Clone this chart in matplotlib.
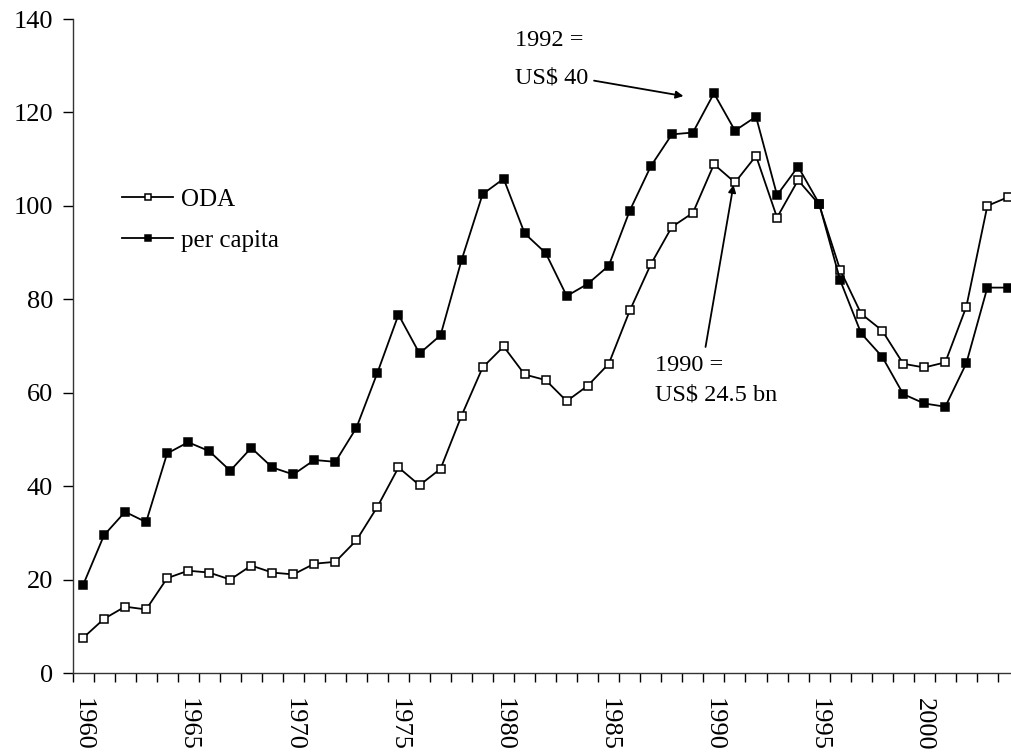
import matplotlib
matplotlib.use("Agg")
import matplotlib.pyplot as plt
import numpy as np

# --- DATA ---
years = list(range(1960, 2005))
oda = [7.5, 11.6, 14.2, 13.6, 20.3, 21.9, 21.5, 20.0, 23.0, 21.5,
       21.1, 23.4, 23.8, 28.4, 35.6, 44.0, 40.2, 43.7, 55.1, 65.4,
       69.9, 63.9, 62.7, 58.2, 61.5, 66.2, 77.6, 87.5, 95.5, 98.5,
       108.9, 105.0, 110.7, 97.5, 105.5, 100.3, 86.3, 76.9, 73.3, 66.2,
       65.4, 66.5, 78.4, 100.0, 101.9]
per_capita = [18.8, 29.5, 34.5, 32.3, 47.0, 49.4, 47.5, 43.3, 48.2, 44.0,
              42.5, 45.6, 45.2, 52.5, 64.3, 76.7, 68.4, 72.3, 88.4, 102.5,
              105.8, 94.1, 89.9, 80.7, 83.3, 87.2, 99.0, 108.5, 115.3, 115.7,
              124.1, 116.1, 119.1, 102.3, 108.4, 100.5, 84.1, 72.7, 67.7, 59.7,
              57.7, 57.0, 66.3, 82.5, 82.5]
label_years = [1960, 1965, 1970, 1975, 1980, 1985, 1990, 1995, 2000]
y_ticks = [0, 20, 40, 60, 80, 100, 120, 140]

plt.rcParams['font.family'] = ['Liberation Serif', 'DejaVu Serif']

W, H = 1012, 755
fig = plt.figure(figsize=(W / 100, H / 100), dpi=100)
# category axis is cut off at the right edge of the picture
ax = fig.add_axes([72.5 / W, (H - 673) / H, 946.4 / W, 654 / H])

x = np.arange(len(years))
ax.plot(x, oda, color='black', lw=1.3, marker='s', ms=5.5,
        mfc='white', mec='black', mew=1.1, label='ODA')
ax.plot(x, per_capita, color='black', lw=1.3, marker='s', ms=5.5,
        mfc='black', mec='black', mew=1.1, label='per capita')

ax.set_xlim(-0.5, len(years) - 0.5)
ax.set_ylim(0, 140)
ax.set_yticks(y_ticks)
ax.set_yticklabels([str(v) for v in y_ticks], fontsize=19)
ax.tick_params(axis='y', direction='out', length=7, width=1, pad=7)

ax.set_xticks([years.index(y) for y in label_years])
ax.set_xticklabels([str(y) for y in label_years], rotation=-90, fontsize=19)
ax.set_xticks(np.arange(-0.5, len(years), 1), minor=True)
ax.tick_params(axis='x', which='major', length=0, pad=18)
ax.tick_params(axis='x', which='minor', direction='out', length=6.5, width=1)

for s in ['top', 'right']:
    ax.spines[s].set_visible(False)
for s in ['left', 'bottom']:
    ax.spines[s].set_linewidth(1)
    ax.spines[s].set_color('#333333')

leg = ax.legend(loc='center left', bbox_to_anchor=(110 / W, 1 - 220 / H),
                bbox_transform=fig.transFigure, frameon=False, borderpad=0,
                fontsize=18, handlelength=2.0, markerscale=0.75,
                labelspacing=0.75, handletextpad=0.35)

# annotations
ax.annotate('', xy=(28.55, 123.5), xytext=(24.3, 126.8),
            arrowprops=dict(arrowstyle='-|>', color='black', lw=1.3,
                            mutation_scale=11, shrinkA=0, shrinkB=0))
ax.text(20.55, 135.5, '1992 =', fontsize=17.5, va='center', ha='left')
ax.text(20.55, 127.4, 'US$ 40', fontsize=17.5, va='center', ha='left')

ax.annotate('', xy=(30.93, 104.5), xytext=(29.6, 69.8),
            arrowprops=dict(arrowstyle='-|>', color='black', lw=1.3,
                            mutation_scale=11, shrinkA=0, shrinkB=0))
ax.text(27.2, 65.9, '1990 =', fontsize=17.5, va='center', ha='left')
ax.text(27.2, 59.5, 'US$ 24.5 bn', fontsize=17.5, va='center', ha='left')

fig.savefig('out.png', dpi=100)
